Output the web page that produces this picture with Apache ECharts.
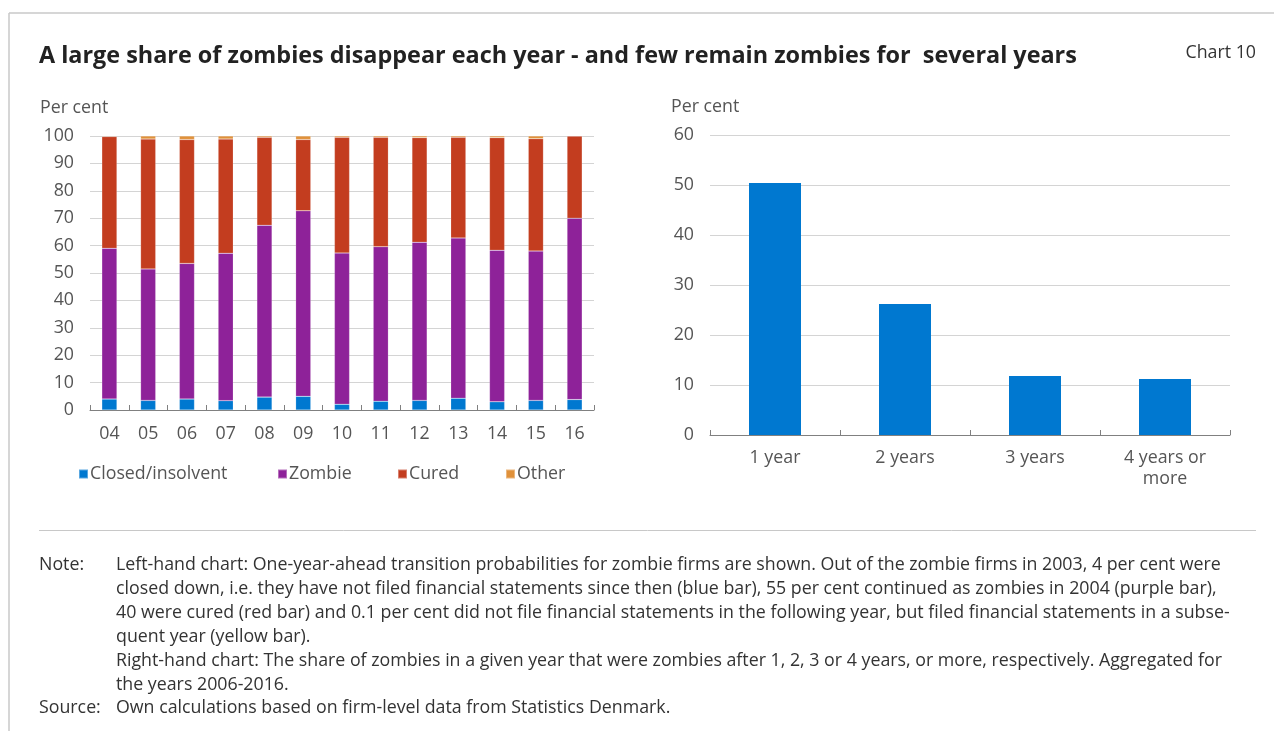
<!DOCTYPE html>
<html>
<head>
<meta charset="utf-8">
<script src="https://cdn.jsdelivr.net/npm/echarts@6/dist/echarts.min.js"></script>
<style>
  html, body { margin: 0; padding: 0; background: #fff; }
  #chart { width: 1274px; height: 731px; }
</style>
</head>
<body>
<div id="chart"></div>
<script>
// Left-hand chart: one-year-ahead transitions of zombie firms (per cent, stacked)
const years = ['04', '05', '06', '07', '08', '09', '10', '11', '12', '13', '14', '15', '16'];
const closedInsolvent = [4.0, 3.5, 4.0, 3.4, 4.7, 5.0, 2.1, 3.2, 3.5, 4.3, 3.0, 3.5, 3.8];
const zombie          = [55.0, 48.0, 49.5, 53.8, 62.7, 67.7, 55.2, 56.4, 57.7, 58.5, 55.3, 54.5, 66.2];
const cured           = [40.8, 47.4, 45.2, 41.7, 32.1, 26.0, 42.2, 39.9, 38.2, 36.7, 41.1, 41.0, 30.0];
const other           = [0.2, 1.1, 1.3, 1.1, 0.5, 1.3, 0.5, 0.5, 0.6, 0.5, 0.6, 1.0, 0.0];

// Right-hand chart: share still zombies after n years (per cent)
const horizons = ['1 year', '2 years', '3 years', '4 years or\nmore'];
const stillZombie = [50.4, 26.2, 11.8, 11.2];

const leftTicks = { min: 0, max: 100, interval: 10 };
const rightTicks = { min: 0, max: 60, interval: 10 };

const noteLines = [
  'Left-hand chart: One-year-ahead transition probabilities for zombie firms are shown. Out of the zombie firms in 2003, 4 per cent were',
  'closed down, i.e. they have not filed financial statements since then (blue bar), 55 per cent continued as zombies in 2004 (purple bar),',
  '40 were cured (red bar) and 0.1 per cent did not file financial statements in the following year, but filed financial statements in a subse-',
  'quent year (yellow bar).',
  'Right-hand chart: The share of zombies in a given year that were zombies after 1, 2, 3 or 4 years, or more, respectively. Aggregated for',
  'the years 2006-2016.'
];
const sourceLine = 'Own calculations based on firm-level data from Statistics Denmark.';

const FONT = '"Open Sans", "Noto Sans", sans-serif';
const FS = 17.8;
const C_BLUE = '#0078d0';
const C_PURPLE = '#8e2299';
const C_RED = '#c33d1f';
const C_ORANGE = '#e0913a';
const TXT = '#555';

const chart = echarts.init(document.getElementById('chart'), null, { renderer: 'canvas' });

function yAxis(gridIndex, t) {
  return {
    type: 'value', gridIndex, min: t.min, max: t.max, interval: t.interval,
    axisLine: { show: false }, axisTick: { show: false },
    axisLabel: { color: TXT, fontFamily: FONT, fontSize: FS, margin: 16 },
    splitLine: { lineStyle: { color: '#d4d4d4', width: 1 } }
  };
}

function xAxis(gridIndex, data, margin) {
  return {
    type: 'category', gridIndex, data,
    axisLine: { lineStyle: { color: '#808080', width: 1 } },
    axisTick: { show: true, inside: true, length: 5, lineStyle: { color: '#808080' } },
    axisLabel: { color: TXT, fontFamily: FONT, fontSize: FS, margin, lineHeight: 21 }
  };
}

const stackSeries = [
  ['Closed/insolvent', closedInsolvent, C_BLUE],
  ['Zombie', zombie, C_PURPLE],
  ['Cured', cured, C_RED],
  ['Other', other, C_ORANGE]
].map(([name, data, color]) => ({
  name, type: 'bar', stack: 'left', xAxisIndex: 0, yAxisIndex: 0,
  data, barWidth: '39%',
  itemStyle: { color, borderColor: 'rgba(255,255,255,0.35)', borderWidth: 0.5 },
  emphasis: { disabled: true }
}));

const legendLefts = [78, 277, 397, 505];
const legendNames = ['Closed/insolvent', 'Zombie', 'Cured', 'Other'];

const noteText = noteLines.map((s, i) => ({
  type: 'text', left: 116, top: 556 + i * 24,
  style: { text: s, fill: '#333', font: FS + 'px ' + FONT }
}));

chart.setOption({
  backgroundColor: '#fff',
  animation: false,
  grid: [
    { left: 90, right: 680, top: 136, bottom: 321 },
    { left: 710, right: 44, top: 135, bottom: 296 }
  ],
  xAxis: [xAxis(0, years, 13), xAxis(1, horizons, 12)],
  yAxis: [yAxis(0, leftTicks), yAxis(1, rightTicks)],
  legend: legendNames.map((n, i) => ({
    data: [n], left: legendLefts[i], top: 465, padding: 0,
    icon: 'rect', itemWidth: 9, itemHeight: 9, itemGap: 0,
    textStyle: { color: TXT, fontFamily: FONT, fontSize: FS, padding: [0, 0, 0, -3] },
    selectedMode: false
  })),
  series: stackSeries.concat([{
    name: 'Still zombie', type: 'bar', xAxisIndex: 1, yAxisIndex: 1,
    data: stillZombie, barWidth: '40%',
    itemStyle: { color: C_BLUE }, emphasis: { disabled: true }
  }]),
  graphic: [
    // frame lines
    { type: 'line', shape: { x1: 9, y1: 13, x2: 1274, y2: 13 }, style: { stroke: '#c8c8c8', lineWidth: 1.5 } },
    { type: 'line', shape: { x1: 9, y1: 13, x2: 9, y2: 731 }, style: { stroke: '#c8c8c8', lineWidth: 1.5 } },
    // title and chart number
    { type: 'text', left: 39, top: 45, style: { text: 'A large share of zombies disappear each year - and few remain zombies for  several years', fill: '#222', font: 'bold 23.4px ' + FONT } },
    { type: 'text', right: 18, top: 44, style: { text: 'Chart 10', fill: '#333', font: FS + 'px ' + FONT } },
    // axis unit captions
    { type: 'text', left: 40, top: 99, style: { text: 'Per cent', fill: TXT, font: FS + 'px ' + FONT } },
    { type: 'text', left: 671, top: 98, style: { text: 'Per cent', fill: TXT, font: FS + 'px ' + FONT } },
    // separator above notes
    { type: 'line', shape: { x1: 39, y1: 530.5, x2: 1256, y2: 530.5 }, style: { stroke: '#c8c8c8', lineWidth: 1 } },
    { type: 'text', left: 39, top: 556, style: { text: 'Note:', fill: '#333', font: FS + 'px ' + FONT } },
    { type: 'text', left: 39, top: 699, style: { text: 'Source:', fill: '#333', font: FS + 'px ' + FONT } },
    { type: 'text', left: 116, top: 699, style: { text: sourceLine, fill: '#333', font: FS + 'px ' + FONT } }
  ].concat(noteText)
});
</script>
</body>
</html>
